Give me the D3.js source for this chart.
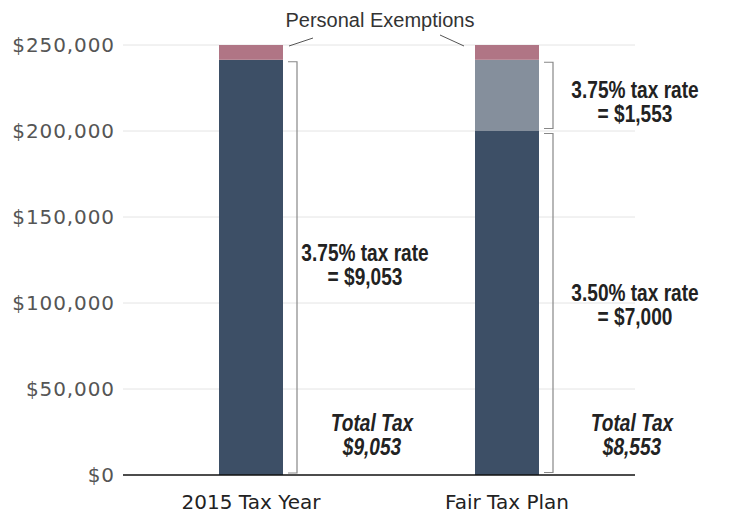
<!DOCTYPE html>
<html>
<head>
<meta charset="utf-8">
<script src="https://cdn.jsdelivr.net/npm/d3@7"></script>
<style>
  body { margin: 0; background: #fff; }
  svg { display: block; }
</style>
</head>
<body>
<div id="vis"></div>
<script>
// data
var categories = ['2015 Tax Year', 'Fair Tax Plan'];
var first = [241413, 0];          // dark segment, 2015
var baseAt = [0, 200000];         // dark segment, fair tax (3.50%)
var second = [0, 41413];          // light segment above $200,000 (3.75%)
var exemptions = [8587, 8587];    // pink cap
var yTicks = [0, 50000, 100000, 150000, 200000, 250000];

var colors = {dark: '#3d4f66', light: '#858f9c', pink: '#b07585'};

var width = 747, height = 515;
var margin = {left: 123, right: 112, top: 45, bottom: 40};

var svg = d3.select('#vis').append('svg')
    .attr('width', width)
    .attr('height', height);

var x = d3.scaleBand()
    .domain(categories)
    .range([margin.left, width - margin.right])
    .paddingInner(0.75)
    .paddingOuter(0.375);

var y = d3.scaleLinear()
    .domain([0, 250000])
    .range([height - margin.bottom, margin.top]);

// gridlines
svg.append('g')
    .selectAll('line')
    .data(yTicks.slice(1))
    .join('line')
    .attr('x1', margin.left)
    .attr('x2', width - margin.right)
    .attr('y1', function(d) { return y(d); })
    .attr('y2', function(d) { return y(d); })
    .attr('stroke', '#e4e4e4')
    .attr('stroke-width', 1);

// y labels
svg.append('g')
    .selectAll('text')
    .data(yTicks)
    .join('text')
    .attr('x', margin.left - 8)
    .attr('y', function(d) { return y(d); })
    .attr('dy', '0.35em')
    .attr('text-anchor', 'end')
    .attr('fill', '#555')
    .style('font-family', 'Verdana, "DejaVu Sans", sans-serif')
    .style('font-size', '20px')
    .style('letter-spacing', '0.9px')
    .text(function(d) { return '$' + d3.format(',')(d); });

// stacks
var segs = [];
categories.forEach(function(c, i) {
    var top = 0;
    if (first[i] > 0) { segs.push({c: c, y0: 0, y1: first[i], color: colors.dark}); top = first[i]; }
    if (baseAt[i] > 0) { segs.push({c: c, y0: 0, y1: baseAt[i], color: colors.dark}); }
    if (second[i] > 0) { segs.push({c: c, y0: baseAt[i], y1: baseAt[i] + second[i], color: colors.light}); top = baseAt[i] + second[i]; }
    segs.push({c: c, y0: top, y1: top + exemptions[i], color: colors.pink});
});

svg.append('g')
    .selectAll('rect')
    .data(segs)
    .join('rect')
    .attr('x', function(d) { return x(d.c); })
    .attr('width', x.bandwidth())
    .attr('y', function(d) { return y(d.y1); })
    .attr('height', function(d) { return y(d.y0) - y(d.y1); })
    .attr('fill', function(d) { return d.color; });

// baseline
svg.append('line')
    .attr('x1', margin.left)
    .attr('x2', width - margin.right)
    .attr('y1', y(0))
    .attr('y2', y(0))
    .attr('stroke', '#111')
    .attr('stroke-width', 1.5);

// x labels
svg.append('g')
    .selectAll('text')
    .data(categories)
    .join('text')
    .attr('x', function(d) { return x(d) + x.bandwidth() / 2; })
    .attr('y', height - 6)
    .attr('text-anchor', 'middle')
    .attr('fill', '#222')
    .style('font-family', 'Verdana, "DejaVu Sans", sans-serif')
    .style('font-size', '20px')
    .text(function(d) { return d; });

// brackets
function bracket(cat, v0, v1, gap) {
    var bx = x(cat) + x.bandwidth() + 5;
    var ex = bx + 9;
    var t = y(v1) + gap, b = y(v0) - gap;
    svg.append('path')
        .attr('d', 'M' + bx + ',' + t + 'H' + ex + 'V' + b + 'H' + bx)
        .attr('fill', 'none')
        .attr('stroke', '#888')
        .attr('stroke-width', 1.2);
}
bracket(categories[0], 0, first[0], 2);
bracket(categories[1], 0, baseAt[1], 2.5);
bracket(categories[1], baseAt[1], baseAt[1] + second[1], 2.5);

// annotations (condensed bold type)
function label(cx, cy, lines, italic) {
    var t = svg.append('g')
        .attr('transform', 'translate(' + cx + ',' + cy + ') scale(0.83,1)')
        .append('text')
        .attr('text-anchor', 'middle')
        .attr('fill', '#222')
        .style('font-family', 'Arial, "Liberation Sans", sans-serif')
        .style('font-weight', 'bold')
        .style('font-style', italic ? 'italic' : 'normal')
        .style('font-size', '23px');
    lines.forEach(function(s, i) {
        t.append('tspan').attr('x', 0).attr('y', i * 24).text(s);
    });
}
var rx0 = x(categories[0]) + x.bandwidth();
var rx1 = x(categories[1]) + x.bandwidth();
label(rx0 + 82, 261, ['3.75% tax rate', '= $9,053'], false);
label(rx1 + 96, 98, ['3.75% tax rate', '= $1,553'], false);
label(rx1 + 96, 301, ['3.50% tax rate', '= $7,000'], false);
label(rx0 + 89, 431, ['Total Tax', '$9,053'], true);
label(rx1 + 93, 431, ['Total Tax', '$8,553'], true);

// personal exemptions callout
svg.append('text')
    .attr('x', 380)
    .attr('y', 27)
    .attr('text-anchor', 'middle')
    .attr('fill', '#333')
    .style('font-family', 'Arial, "Liberation Sans", sans-serif')
    .style('font-size', '20px')
    .text('Personal Exemptions');

svg.append('line')
    .attr('x1', rx0 + 6).attr('y1', y(250000) + 1)
    .attr('x2', rx0 + 30).attr('y2', y(250000) - 7)
    .attr('stroke', '#555');
svg.append('line')
    .attr('x1', x(categories[1]) - 35).attr('y1', y(250000) - 10)
    .attr('x2', x(categories[1]) - 11).attr('y2', y(250000) + 1)
    .attr('stroke', '#555');
</script>
</body>
</html>
